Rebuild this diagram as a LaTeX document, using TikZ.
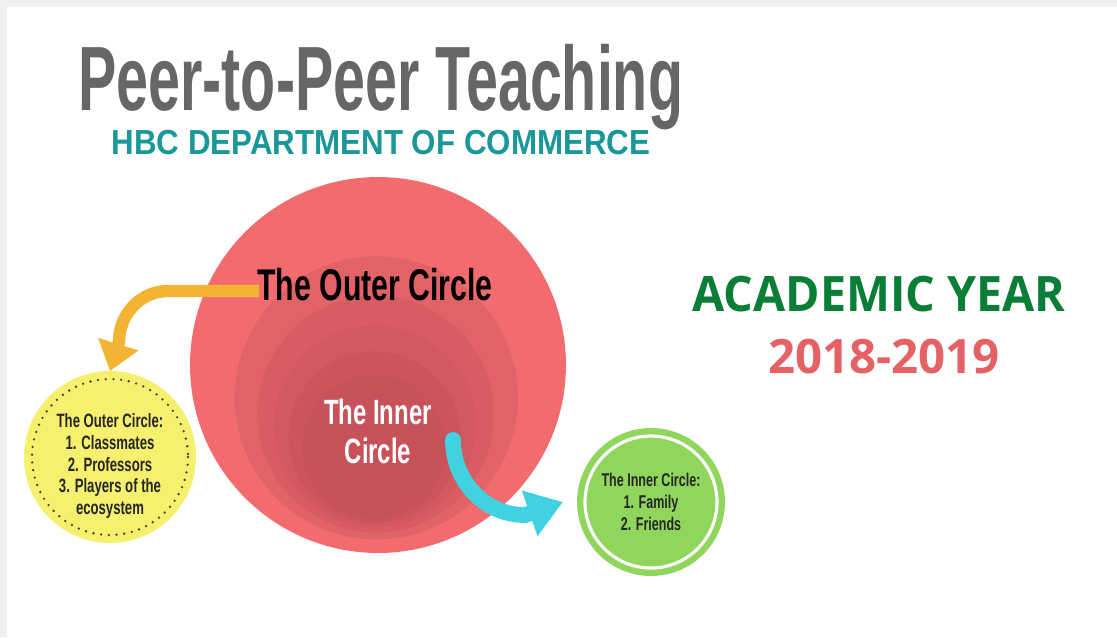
\documentclass[tikz,border=0pt]{standalone}
\usepackage{fontspec}
\setmainfont{Liberation Sans}
\newfontfamily\titlefont[FakeStretch=0.628]{Liberation Sans}
\newfontfamily\subfont[FakeStretch=0.9]{Liberation Sans}
\newfontfamily\condfont[FakeStretch=0.68]{Liberation Sans}
\newfontfamily\opensans[FakeStretch=0.955]{Open Sans}
\newfontfamily\opensansyear{Open Sans}
\usetikzlibrary{arrows.meta}
\definecolor{bgrey}{RGB}{240,240,240}
\definecolor{titlegrey}{RGB}{102,102,102}
\definecolor{teal1}{RGB}{26,152,153}
\definecolor{redA}{RGB}{242,108,111}
\definecolor{redB}{RGB}{199,82,90}
\definecolor{orange1}{RGB}{242,180,50}
\definecolor{cyan1}{RGB}{64,210,224}
\definecolor{yellow1}{RGB}{245,240,110}
\definecolor{green1}{RGB}{144,214,92}
\definecolor{acadgreen}{RGB}{10,125,55}
\definecolor{yearred}{RGB}{228,98,102}
\definecolor{dotcol}{RGB}{70,70,50}
\colorlet{red1}{redB!40!redA}
\colorlet{red2}{redB!60!redA}
\colorlet{red3}{redB!75!redA}
\colorlet{red4}{redB!88!redA}
\tikzset{
  ring/.style={circle, inner sep=0pt, outer sep=0pt, minimum size=#1},
  condtext/.style={inner sep=0pt, font=\condfont\bfseries},
}
\begin{document}
\begin{tikzpicture}[x=0.02cm, y=-0.02cm]
\useasboundingbox (0,0) rectangle (1117,637);
\fill[bgrey] (0,0) rectangle (1117,637);
\fill[white] (7,7) rectangle (1117,637);

% titles
\node[inner sep=0pt, anchor=base west, text=titlegrey, font=\titlefont\bfseries\fontsize{52}{55}\selectfont] (title) at (78,110) {Peer-to-Peer Teaching};
\node[inner sep=0pt, anchor=base, text=teal1, font=\subfont\bfseries\fontsize{19.8}{22}\selectfont] (subtitle) at (381,154) {HBC DEPARTMENT OF COMMERCE};

% nested red circles
\node[ring=7.52cm, fill=redA] (outer) at (378,365) {};
\node[ring=5.664cm, fill=red1] (c1) at (376.4,397.8) {};
\node[ring=4.736cm, fill=red2] (c2) at (375.6,414.2) {};
\node[ring=4.04cm, fill=red3] (c3) at (375,426.5) {};
\node[ring=3.44cm, fill=red4] (c4) at (374.5,437) {};
\node[ring=2.88cm, fill=redB] (inner) at (374,447) {};

% circle labels
\node[condtext, anchor=base, font=\condfont\bfseries\fontsize{25.3}{28}\selectfont] (outertext) at (375,300) {The Outer Circle};
\node[condtext, anchor=base, text=white, align=center, font=\condfont\bfseries\fontsize{20}{22}\selectfont] (innertext) at (378,463) {The Inner\\Circle};

% yellow circle
\node[ring=3.44cm, fill=yellow1] (yel) at (110,457) {};
\node[align=center, inner sep=0pt, text=black!85, font=\condfont\bfseries\fontsize{11}{12.4}\selectfont] (yeltext) at (110,466) {The Outer Circle:\\1. Classmates\\2. Professors\\3. Players of the\\ecosystem};
\draw[dotcol, line width=1.5pt, line cap=round, dash pattern=on 0pt off 4.4pt] (yel.center) circle (78);

% green circle
\node[ring=2.96cm, fill=green1, align=center, text=black!85, font=\condfont\bfseries\fontsize{10.5}{12.3}\selectfont] (grn) at (651,502) {The Inner Circle:\\1. Family\\2. Friends};
\draw[white, line width=1.8pt] (grn.center) circle (66);

% arrows
\coordinate (ostart) at (259,291);
\draw[orange1, line width=7pt, -{Triangle[width=23pt,length=16pt]}]
  (ostart) -- (168,291) to[out=180,in=90] (119,342) -- (yel.north);
\coordinate (cstart) at (453,440);
\draw[cyan1, line width=9pt, -{Triangle[width=26pt,length=20pt]}]
  (cstart) to[out=-90,in=180] (525,515) -- ([xshift=-8pt]grn.west);
\fill[cyan1] (cstart) circle (8);

% academic year
\node[inner sep=0pt, anchor=base, text=acadgreen, font=\opensans\bfseries\fontsize{27.8}{30}\selectfont] (acad) at (879,311) {ACADEMIC YEAR};
\node[inner sep=0pt, anchor=base, text=yearred, font=\opensansyear\bfseries\fontsize{27}{30}\selectfont] (year) at (884,373) {2018-2019};
\end{tikzpicture}
\end{document}
